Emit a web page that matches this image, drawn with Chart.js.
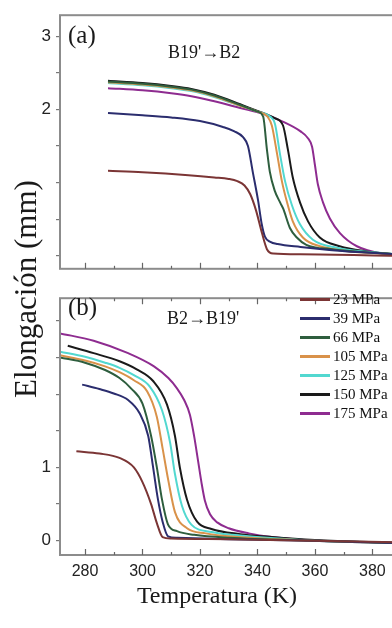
<!DOCTYPE html>
<html>
<head>
<meta charset="utf-8">
<script src="https://cdn.jsdelivr.net/npm/chart.js@4.4.0/dist/chart.umd.min.js"></script>
<style>
  html, body { margin: 0; padding: 0; background: #fff; }
  #fig { position: relative; width: 392px; height: 628px; overflow: hidden;
         font-family: "Liberation Serif", "Times New Roman", serif; color: #1a1a1a; }
  canvas { position: absolute; left: 0; }
  #cTop { top: 0; }
  #cBot { top: 283px; }
  .txt { position: absolute; white-space: nowrap; }
  #ytitle { font-size: 31px; line-height: 36px; width: 300px; text-align: center;
            left: -124px; top: 271px; transform: rotate(-90deg); }
  #xtitle { font-size: 24px; line-height: 28px; width: 300px; text-align: center;
            left: 67px; top: 581px; }
  .panel { font-size: 25px; line-height: 28px; left: 68px; }
  .trans { font-size: 18px; line-height: 22px; }
  #legend { position: absolute; left: 300px; top: 290px; font-size: 15px; color: #111; }
  #legend .row { height: 19px; display: flex; align-items: center; white-space: nowrap; }
  #legend .sw { width: 30px; height: 2.5px; margin-right: 3px; }
</style>
</head>
<body>
<div id="fig">
  <canvas id="cTop" width="400" height="284"></canvas>
  <canvas id="cBot" width="400" height="345"></canvas>
  <div class="txt" id="ytitle">Elongación (mm)</div>
  <div class="txt" id="xtitle">Temperatura (K)</div>
  <div class="txt panel" style="top:21px">(a)</div>
  <div class="txt panel" style="top:293px">(b)</div>
  <div class="txt trans" style="left:168px; top:41px">B19'→B2</div>
  <div class="txt trans" style="left:167px; top:307px">B2→B19'</div>
  <div id="legend"></div>
</div>
<script>
// cargas aplicadas (leyenda)
const pressures = ['23 MPa', '39 MPa', '66 MPa', '105 MPa', '125 MPa', '150 MPa', '175 MPa'];
const lineColors = ['#7b3535', '#2b2d6e', '#2e5e3e', '#d9924a', '#52d8d0', '#1a1a1a', '#8e2c90'];

// (a) calentamiento B19' -> B2 : [T (K), elongación (mm)]
const heat23 = [[288,1.16],[300,1.14],[316,1.10],[325,1.07],[330,1.05],[333,1.02],[335.5,0.96],[337.5,0.84],[339.5,0.62],[341.5,0.32],[343.3,0.09],[345.5,0.03],[355,0.02],[388,0.0]];
const heat39 = [[288,1.95],[300,1.92],[310,1.89],[320,1.84],[328,1.76],[332,1.70],[335,1.62],[336.7,1.50],[338.4,1.14],[340.2,0.76],[341.5,0.43],[342.6,0.26],[344.5,0.19],[347,0.16],[355,0.12],[365,0.08],[375,0.05],[388,0.02]];
const heat66 = [[288,2.38],[300,2.35],[310,2.31],[317,2.27],[325,2.19],[334,2.06],[340,1.97],[342,1.90],[343.3,1.45],[344.3,1.15],[346,0.89],[348,0.72],[349,0.64],[351.3,0.38],[353.7,0.25],[357,0.15],[366,0.09],[388,0.02]];
const heat105 = [[288,2.37],[300,2.34],[310,2.30],[317,2.26],[325,2.18],[334,2.05],[340,1.97],[343.5,1.90],[345,1.78],[346.8,1.40],[348.5,1.02],[350.3,0.73],[352.3,0.47],[355.8,0.25],[361.7,0.13],[370,0.07],[388,0.02]];
const heat125 = [[288,2.36],[300,2.33],[310,2.29],[317,2.25],[325,2.17],[334,2.05],[340,1.97],[344.5,1.90],[346.1,1.80],[347.8,1.40],[349.6,1.02],[352,0.69],[354.8,0.43],[359.3,0.22],[367.6,0.11],[388,0.02]];
const heat150 = [[288,2.39],[300,2.36],[310,2.32],[317,2.28],[325,2.20],[334,2.07],[340,1.98],[346,1.88],[348.9,1.78],[350.6,1.45],[352.3,1.07],[354.8,0.73],[357.6,0.47],[361.7,0.25],[368.6,0.13],[378,0.06],[388,0.02]];
const heat175 = [[288,2.29],[300,2.26],[310,2.22],[317,2.18],[325,2.11],[334,2.02],[342,1.94],[349,1.83],[355,1.70],[357.5,1.61],[359,1.49],[360,1.24],[361,0.98],[362.8,0.73],[365.2,0.51],[368.7,0.31],[374.6,0.13],[383.6,0.03],[388,0.02]];

// (b) enfriamiento B2 -> B19'
const cool23 = [[277,1.22],[285,1.19],[292,1.13],[297,1.0],[300,0.8],[303,0.5],[305,0.24],[307,0.05],[310,0.03],[330,0.02],[360,0.0],[388,-0.02]];
const cool39 = [[279,2.13],[285,2.07],[290,2.01],[295,1.92],[299,1.74],[302,1.43],[303.7,1.0],[305.4,0.56],[307,0.26],[308.9,0.06],[312,0.04],[330,0.02],[360,0.0],[388,-0.03]];
const cool66 = [[271.3,2.50],[280,2.43],[287,2.33],[292,2.22],[296,2.08],[300,1.87],[303,1.43],[305,1.0],[306.8,0.56],[308.9,0.22],[312,0.13],[318,0.08],[330,0.04],[360,0.0],[388,-0.03]];
const cool105 = [[271.3,2.53],[280,2.46],[287,2.38],[292,2.30],[297,2.19],[301.6,2.04],[305,1.69],[307,1.26],[309,0.82],[311.3,0.39],[315.5,0.17],[322,0.10],[330,0.06],[360,0.0],[388,-0.03]];
const cool125 = [[271.3,2.58],[280,2.51],[287,2.43],[292,2.36],[297,2.26],[302.6,2.10],[306.8,1.78],[309.6,1.34],[311.3,0.91],[313.7,0.48],[317,0.22],[324,0.12],[334,0.07],[360,0.0],[388,-0.03]];
const cool150 = [[274,2.66],[283,2.56],[292,2.45],[298,2.34],[303.7,2.18],[308.5,1.86],[311.3,1.43],[313,1.0],[315.5,0.56],[319,0.26],[324,0.16],[334,0.09],[345,0.05],[360,0.01],[388,-0.03]];
const cool175 = [[271.3,2.83],[283,2.73],[295,2.56],[304,2.38],[309,2.22],[312,2.08],[314.5,1.92],[316.5,1.72],[318,1.42],[319.3,1.10],[320.5,0.80],[321.7,0.55],[323.5,0.36],[326,0.25],[330,0.17],[337,0.10],[345,0.05],[360,0.0],[388,-0.03]];

// ticks
const xTickVals = [280, 300, 320, 340, 360, 380];
const xMinorVals = [280, 290, 300, 310, 320, 330, 340, 350, 360, 370, 380];
const yTickVals = [0, 0.5, 1, 1.5, 2, 2.5, 3];
const yLabelsTop = [2, 3];
const yLabelsBot = [0, 1];

const heatSeries = [heat23, heat39, heat66, heat105, heat125, heat150, heat175];
const coolSeries = [cool23, cool39, cool66, cool105, cool125, cool150, cool175];

// marco gris y marcas hacia dentro en el eje x
const framePlugin = {
    id: 'frame',
    afterDraw(chart, args, opts) {
        const { ctx, chartArea: a, scales: { x } } = chart;
        ctx.save();
        ctx.strokeStyle = '#8c8c8c';
        ctx.lineWidth = 2;
        ctx.strokeRect(a.left, a.top, a.right - a.left, a.bottom - a.top);
        ctx.lineWidth = 1.2;
        ctx.strokeStyle = '#666';
        xMinorVals.forEach(t => {
            const px = Math.round(x.getPixelForValue(t)) + 0.5;
            const len = xTickVals.includes(t) ? 6 : 3;
            ctx.beginPath();
            ctx.moveTo(px, a.bottom);
            ctx.lineTo(px, a.bottom - len);
            if (opts.topTicks) {
                ctx.moveTo(px, a.top);
                ctx.lineTo(px, a.top + len);
            }
            ctx.stroke();
        });
        ctx.restore();
    }
};

function buildDatasets(series) {
    return series.map((pts, i) => ({
        label: pressures[i],
        data: pts.map(([x, y]) => ({ x, y })),
        borderColor: lineColors[i],
        borderWidth: 2,
        pointRadius: 0,
        fill: false,
        cubicInterpolationMode: 'monotone'
    }));
}

function panelChart(id, series, cfg) {
    return new Chart(document.getElementById(id), {
        type: 'line',
        data: { datasets: buildDatasets(series) },
        plugins: [framePlugin],
        options: {
            responsive: false,
            animation: false,
            devicePixelRatio: 1,
            layout: { padding: { top: cfg.padTop, bottom: cfg.padBottom, left: 0, right: 0 } },
            plugins: {
                legend: { display: false },
                tooltip: { enabled: false },
                frame: { topTicks: cfg.topTicks }
            },
            scales: {
                x: {
                    type: 'linear',
                    display: cfg.showX,
                    min: 271.3,
                    max: 389.6,
                    afterBuildTicks: s => { s.ticks = xTickVals.map(v => ({ value: v })); },
                    afterFit: s => { if (cfg.showX) s.height = 73; },
                    grid: { display: false, drawTicks: false },
                    border: { display: false },
                    ticks: {
                        padding: 7, maxRotation: 0, autoSkip: false, color: '#222',
                        font: { family: 'Liberation Sans', size: 16 }
                    }
                },
                y: {
                    min: cfg.yMin,
                    max: cfg.yMax,
                    afterFit: s => { s.width = 60; },
                    afterBuildTicks: s => { s.ticks = yTickVals.map(v => ({ value: v })); },
                    grid: { drawOnChartArea: false, tickLength: 4, color: '#777', lineWidth: 1.2 },
                    border: { display: false },
                    ticks: {
                        padding: 5, color: '#222',
                        font: { family: 'Liberation Sans', size: 17 },
                        callback: v => cfg.labels.includes(v) ? String(v) : ''
                    }
                }
            }
        }
    });
}

panelChart('cTop', heatSeries, { padTop: 10, padBottom: 2, topTicks: false, showX: false, yMin: -0.178, yMax: 3.287, labels: yLabelsTop });
panelChart('cBot', coolSeries, { padTop: 2, padBottom: 0, topTicks: true, showX: true, yMin: -0.195, yMax: 3.31, labels: yLabelsBot });

// leyenda
document.getElementById('legend').innerHTML = pressures.map((p, i) =>
    `<div class="row"><span class="sw" style="background:${lineColors[i]}"></span>${p}</div>`
).join('');
</script>
</body>
</html>
